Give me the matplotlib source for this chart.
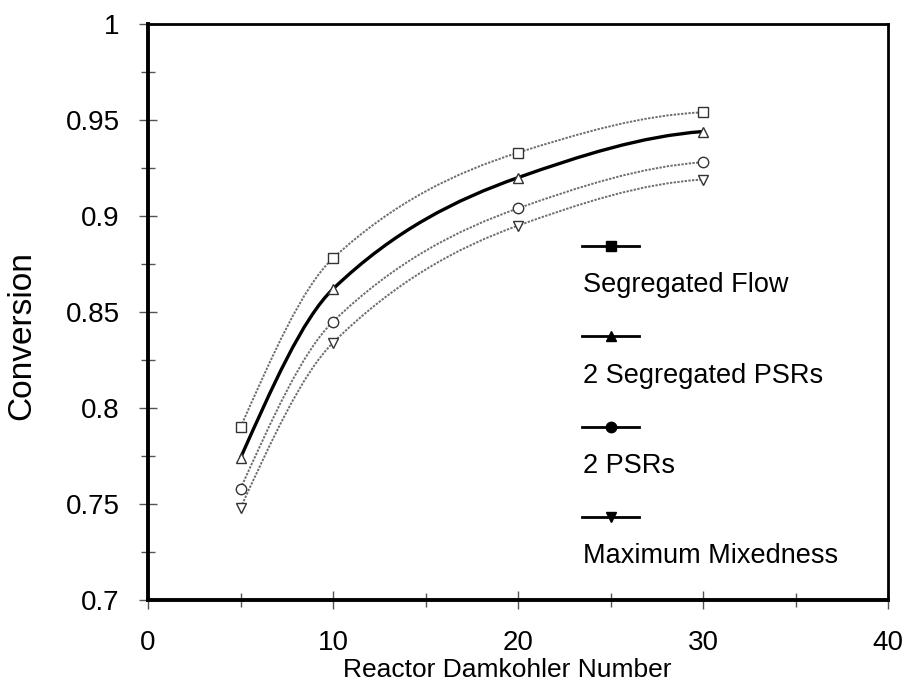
import numpy as np
import matplotlib.pyplot as plt
from matplotlib.path import Path
from matplotlib.patches import PathPatch
from matplotlib.lines import Line2D
from matplotlib.ticker import MultipleLocator

plt.rcParams['font.family'] = ['Liberation Sans', 'DejaVu Sans']

damkohler = [5, 10, 20, 30]
segregated_flow = [0.790, 0.878, 0.933, 0.954]
two_segregated_psrs = [0.774, 0.862, 0.920, 0.944]
two_psrs = [0.758, 0.845, 0.904, 0.928]
max_mixedness = [0.748, 0.834, 0.895, 0.919]

labels = ["Segregated Flow", "2 Segregated PSRs", "2 PSRs", "Maximum Mixedness"]


def smooth_path(x, y):
    # pchip-style slopes, curve drawn as cubic bezier segments
    x = np.asarray(x, float)
    y = np.asarray(y, float)
    h = np.diff(x)
    d = np.diff(y) / h
    m = np.zeros_like(y)
    for k in range(1, len(x) - 1):
        if d[k - 1] * d[k] > 0:
            w1 = 2 * h[k] + h[k - 1]
            w2 = h[k] + 2 * h[k - 1]
            m[k] = (w1 + w2) / (w1 / d[k - 1] + w2 / d[k])
    m[0] = ((2 * h[0] + h[1]) * d[0] - h[0] * d[1]) / (h[0] + h[1])
    m[-1] = ((2 * h[-1] + h[-2]) * d[-1] - h[-1] * d[-2]) / (h[-1] + h[-2])
    verts = [(x[0], y[0])]
    codes = [Path.MOVETO]
    for k in range(len(x) - 1):
        verts += [(x[k] + h[k] / 3, y[k] + m[k] * h[k] / 3),
                  (x[k + 1] - h[k] / 3, y[k + 1] - m[k + 1] * h[k] / 3),
                  (x[k + 1], y[k + 1])]
        codes += [Path.CURVE4] * 3
    return Path(verts, codes)


fig = plt.figure(figsize=(9.02, 6.92), dpi=100)
ax = fig.add_axes([0.1641, 0.1329, 0.8204, 0.8324])

grey = dict(color='#6e6e6e', lw=1.4, ls=(0, (1.2, 0.7)))
series = [
    (segregated_flow, 's', grey),
    (two_segregated_psrs, '^', dict(color='black', lw=2.4, ls='-')),
    (two_psrs, 'o', grey),
    (max_mixedness, 'v', grey),
]
for vals, mk, style in series:
    ax.add_patch(PathPatch(smooth_path(damkohler, vals), fill=False,
                           edgecolor=style['color'], lw=style['lw'],
                           linestyle=style['ls'], zorder=2))
    ax.plot(damkohler, vals, ls='none', marker=mk, ms=7.5, mfc='white',
            mec='#333333', mew=1.0, zorder=3)

# legend: short line with filled marker, label underneath
for i, (mk, lab) in enumerate(zip(['s', '^', 'o', 'v'], labels)):
    yl = 0.6146 - i * 0.1568
    ax.add_line(Line2D([0.5865, 0.6635], [yl, yl], transform=ax.transAxes,
                       color='black', lw=2.0))
    ax.plot([0.6257], [yl], transform=ax.transAxes, marker=mk, ms=7.5,
            color='black', ls='none')
    ax.text(0.588, yl - 0.068, lab, transform=ax.transAxes, fontsize=19.5,
            va='center', ha='left')

ax.set_xlim(0, 40)
ax.set_ylim(0.7, 1.0)
ax.xaxis.set_major_locator(MultipleLocator(10))
ax.xaxis.set_minor_locator(MultipleLocator(5))
ax.yaxis.set_minor_locator(MultipleLocator(0.025))
ax.set_yticks([0.7, 0.75, 0.8, 0.85, 0.9, 0.95, 1.0])
ax.set_yticklabels(['0.7', '0.75', '0.8', '0.85', '0.9', '0.95', '1'])
ax.tick_params(which='both', direction='inout', color='#555555', width=1.0,
               labelsize=20, top=False, right=False)
ax.tick_params(which='major', length=13)
ax.tick_params(which='minor', length=10)
ax.tick_params(axis='y', which='major', pad=14)
ax.tick_params(axis='x', which='major', pad=15)

for side in ['left', 'bottom']:
    ax.spines[side].set_linewidth(2.8)
for side in ['top', 'right']:
    ax.spines[side].set_linewidth(2.0)

ax.set_xlabel('Reactor Damkohler Number', fontsize=19)
ax.set_ylabel('Conversion', fontsize=24)
ax.xaxis.set_label_coords(0.486, -0.100)
ax.yaxis.set_label_coords(-0.150, 0.46)

fig.savefig('out.png', dpi=100)
